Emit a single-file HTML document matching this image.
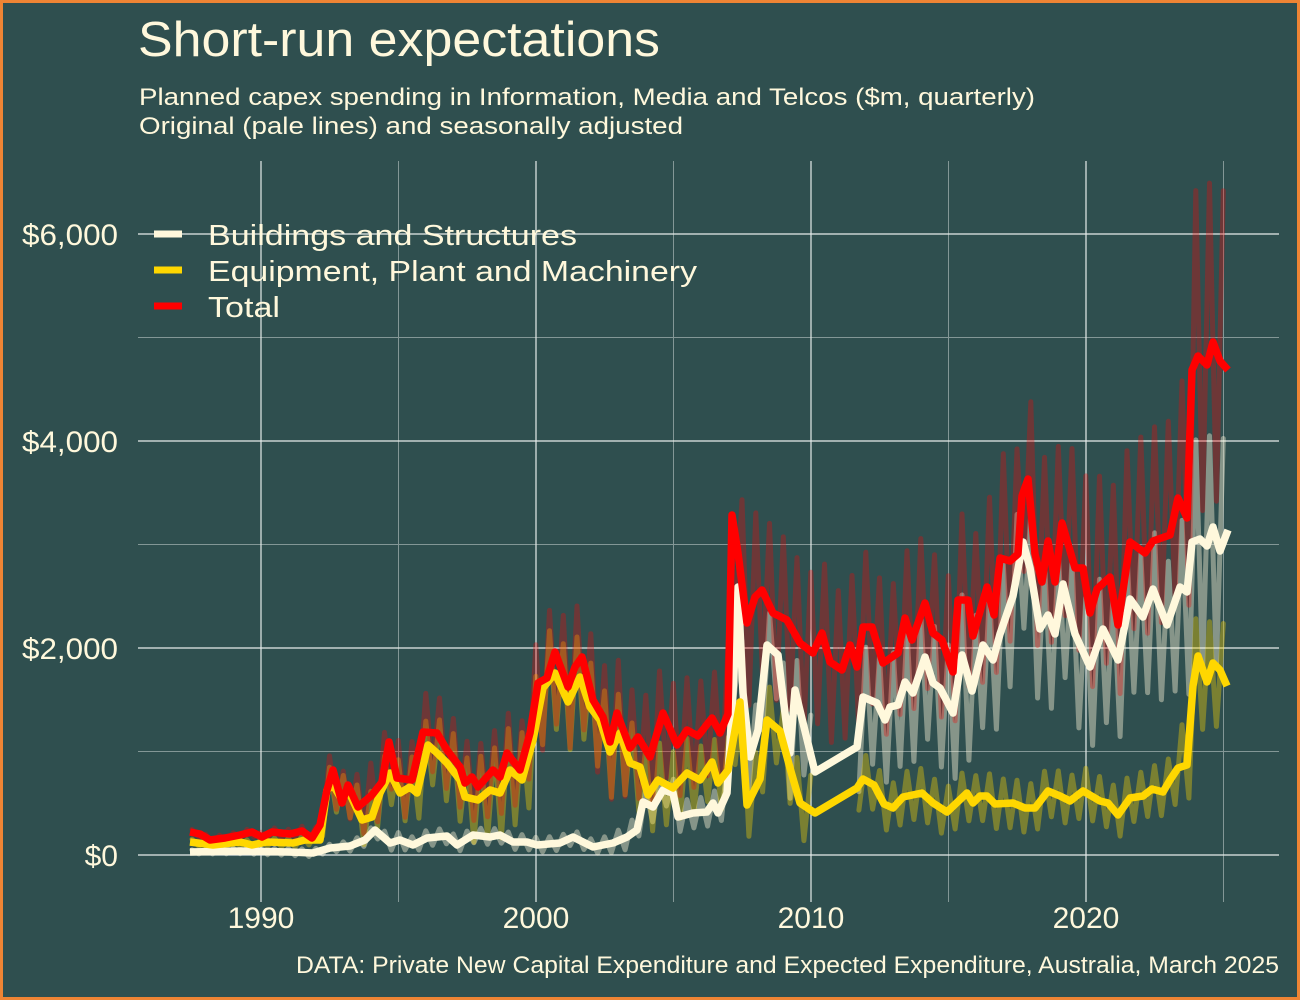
<!DOCTYPE html>
<html>
<head>
<meta charset="utf-8">
<style>
html,body{margin:0;padding:0;background:#2F4F4F;}
svg{display:block;}
text{font-family:"Liberation Sans",sans-serif;fill:#FFF8DC;}
</style>
</head>
<body>
<svg id="chart" xmlns="http://www.w3.org/2000/svg" width="1300" height="1000" viewBox="0 0 1300 1000">
<rect x="0" y="0" width="1300" height="1000" fill="#EE8434"/>
<rect x="3" y="3" width="1294" height="994" fill="#2F4F4F"/>

<!-- minor gridlines -->
<g stroke="#9fb0ae" stroke-width="1" opacity="0.75">
<line x1="138" y1="751.5" x2="1279" y2="751.5"/>
<line x1="138" y1="544.5" x2="1279" y2="544.5"/>
<line x1="138" y1="337.5" x2="1279" y2="337.5"/>
<line x1="398.5" y1="161" x2="398.5" y2="902"/>
<line x1="673.5" y1="161" x2="673.5" y2="902"/>
<line x1="948.5" y1="161" x2="948.5" y2="902"/>
<line x1="1223.5" y1="161" x2="1223.5" y2="902"/>
</g>
<!-- major gridlines -->
<g stroke="#e6ecea" stroke-width="1.2">
<line x1="138" y1="855" x2="1279" y2="855"/>
<line x1="138" y1="648" x2="1279" y2="648"/>
<line x1="138" y1="441" x2="1279" y2="441"/>
<line x1="138" y1="234" x2="1279" y2="234"/>
<line x1="261" y1="161" x2="261" y2="902"/>
<line x1="536" y1="161" x2="536" y2="902"/>
<line x1="811" y1="161" x2="811" y2="902"/>
<line x1="1086" y1="161" x2="1086" y2="902"/>
</g>

<g id="pale" fill="none" stroke-linejoin="round" stroke-linecap="round"></g>

<g fill="none" stroke-linejoin="round" stroke-linecap="butt" stroke-width="7.5">
<polyline id="sa_b" stroke="#FFF8DC" points="190,852 240,851 290,852 313,853 330,848 350,846 365,840 375,830 390,843 400,840 413,845 427,838 447,836 457,845 473,835 490,837 500,835 513,842 527,842 537,845 560,843 573,837 593,847 613,843 627,837 637,830 643,802 653,807 663,790 673,793 678,817 693,813 707,812 713,803 718,813 727,793 733,693 738,587 743,693 750,757 758,730 767,645 778,655 783,697 790,753 795,690 815,772 857,747 863,697 877,703 885,720 890,707 898,705 905,682 913,693 925,657 933,683 940,688 953,713 962,655 972,691 983,645 993,660 1000,634 1013,596 1023,542 1030,568 1040,629 1048,615 1055,634 1063,584 1075,634 1090,667 1103,629 1118,660 1130,599 1143,617 1153,589 1167,625 1180,587 1187,592 1192,542 1200,539 1207,546 1213,527 1220,551 1228,530"/>
<polyline id="sa_e" stroke="#FFD700" points="190,842 213,845 240,842 252,845 267,842 293,843 305,840 320,840 327,790 333,785 342,800 348,790 362,820 372,817 380,793 390,773 400,793 410,787 417,793 428,745 437,753 447,763 460,780 465,797 478,800 490,790 500,793 510,770 522,780 533,740 543,688 555,673 568,702 580,677 590,707 600,720 610,752 620,733 630,763 640,767 648,795 658,780 673,788 687,773 700,780 712,762 718,783 728,770 740,702 747,805 760,779 767,720 780,731 790,768 800,803 815,813 857,788 863,779 874,785 884,804 893,808 903,797 922,793 933,803 947,812 967,793 973,803 980,796 987,796 995,804 1013,803 1025,808 1035,808 1048,791 1060,796 1070,801 1083,791 1100,801 1108,803 1118,815 1130,798 1143,796 1152,789 1163,792 1170,780 1178,768 1187,765 1193,686 1198,656 1207,682 1213,663 1220,670 1227,686"/>
<polyline id="sa_t" stroke="#FF0000" points="190,832 200,834 210,840 225,838 240,835 252,832 262,837 272,832 290,834 302,831 312,838 320,825 327,790 333,770 342,803 348,785 358,807 372,795 382,782 389,742 397,778 412,780 423,732 437,733 447,750 460,767 465,783 472,777 478,787 493,770 500,777 507,753 520,770 530,733 538,683 547,678 555,652 568,687 575,667 582,657 593,700 603,717 610,742 617,713 630,748 638,737 650,757 663,713 677,745 687,730 698,736 712,718 720,733 728,714 732,515 738,553 747,623 755,597 762,590 773,613 787,620 800,643 813,653 822,633 830,662 842,670 850,645 857,667 863,627 872,627 883,663 898,653 905,618 912,640 925,603 933,633 942,640 953,672 958,600 968,600 973,636 987,587 994,615 1000,558 1010,561 1018,554 1022,496 1028,479 1035,554 1042,582 1048,541 1055,582 1062,523 1075,568 1083,568 1090,613 1097,589 1110,577 1118,625 1130,542 1145,553 1153,541 1170,535 1178,498 1187,518 1192,370 1198,356 1207,365 1213,342 1220,361 1228,370"/>
</g>

<!-- Title & subtitle -->
<text x="138" y="56" font-size="49" textLength="522" lengthAdjust="spacingAndGlyphs">Short-run expectations</text>
<text x="139" y="105" font-size="24" textLength="896" lengthAdjust="spacingAndGlyphs">Planned capex spending in Information, Media and Telcos ($m, quarterly)</text>
<text x="139" y="134" font-size="24" textLength="544" lengthAdjust="spacingAndGlyphs">Original (pale lines) and seasonally adjusted</text>

<!-- Legend -->
<rect x="154" y="230.5" width="28" height="7" fill="#FFF8DC"/>
<rect x="154" y="266.5" width="28" height="7" fill="#FFD700"/>
<rect x="154" y="302.5" width="28" height="7" fill="#FF0000"/>
<text x="208" y="245" font-size="29" textLength="369" lengthAdjust="spacingAndGlyphs">Buildings and Structures</text>
<text x="208" y="281" font-size="29" textLength="489" lengthAdjust="spacingAndGlyphs">Equipment, Plant and Machinery</text>
<text x="208" y="317" font-size="29" textLength="72" lengthAdjust="spacingAndGlyphs">Total</text>

<!-- Y axis labels -->
<g font-size="30" text-anchor="end">
<text x="118" y="245" textLength="96" lengthAdjust="spacingAndGlyphs">$6,000</text>
<text x="118" y="452" textLength="96" lengthAdjust="spacingAndGlyphs">$4,000</text>
<text x="118" y="659" textLength="96" lengthAdjust="spacingAndGlyphs">$2,000</text>
<text x="118" y="866">$0</text>
</g>

<!-- X axis labels -->
<g font-size="30" text-anchor="middle">
<text x="261" y="928">1990</text>
<text x="536" y="928">2000</text>
<text x="811" y="928">2010</text>
<text x="1086" y="928">2020</text>
</g>

<!-- Caption -->
<text x="1279" y="973" font-size="24.5" text-anchor="end" textLength="983" lengthAdjust="spacingAndGlyphs">DATA: Private New Capital Expenditure and Expected Expenditure, Australia, March 2025</text>
</svg>

<script>
(function(){
  var ns="http://www.w3.org/2000/svg";
  function P(s){return s.trim().split(/\s+/).map(function(p){return p.split(',').map(Number);});}
  function f(pts,x){
    if(x<=pts[0][0])return pts[0][1];
    for(var i=1;i<pts.length;i++){
      if(x<=pts[i][0]){var a=pts[i-1],b=pts[i];return a[1]+(b[1]-a[1])*(x-a[0])/(b[0]-a[0]);}
    }
    return pts[pts.length-1][1];
  }
  function amp(arr,x){
    if(x<=arr[0][0])return [arr[0][1],arr[0][2]];
    for(var i=1;i<arr.length;i++){
      if(x<=arr[i][0]){var a=arr[i-1],b=arr[i],t=(x-a[0])/(b[0]-a[0]);
        return [a[1]+(b[1]-a[1])*t,a[2]+(b[2]-a[2])*t];}
    }
    var l=arr[arr.length-1];return [l[1],l[2]];
  }
  var series=[
    {id:"sa_b",color:"#FFF8DC",op:0.42,gap:true,
     a:[[190,2,2],[330,4,4],[400,8,8],[600,7,7],[640,15,15],[725,15,15],[735,30,40],[815,40,50],[857,50,60],[960,60,80],[1180,60,90],[1190,100,125],[1232,105,130]]},
    {id:"sa_e",color:"#FFD700",op:0.36,gap:true,
     a:[[190,3,3],[318,5,5],[325,20,20],[400,30,30],[540,50,55],[640,40,45],[725,30,30],[735,35,35],[815,35,35],[857,25,25],[1170,24,24],[1180,40,40],[1190,50,60],[1232,55,60]]},
    {id:"sa_t",color:"#FF0000",op:0.3,gap:false,
     a:[[190,3,3],[318,5,5],[325,25,25],[400,38,38],[530,42,42],[540,60,70],[640,55,60],[725,50,50],[735,85,90],[900,72,72],[960,85,80],[1000,105,80],[1180,115,85],[1190,170,150],[1232,175,150]]}
  ];
  var g=document.getElementById("pale");
  series.forEach(function(s){
    var pts=P(document.getElementById(s.id).getAttribute("points"));
    var d="",pen=false;
    for(var i=0;i<=151;i++){
      var x=192+i*6.875;
      if(x>1230)break;
      if(s.gap && x>817 && x<855){pen=false;continue;}
      var y=f(pts,x),am=amp(s.a,x);
      y += (i%2===0)? -am[0] : am[1];
      d += (pen?"L":"M")+x.toFixed(1)+","+y.toFixed(1)+" ";
      pen=true;
    }
    var p=document.createElementNS(ns,"path");
    p.setAttribute("d",d);
    p.setAttribute("stroke",s.color);
    p.setAttribute("stroke-opacity",s.op);
    p.setAttribute("stroke-width","5");
    g.appendChild(p);
  });
})();
</script>
</body>
</html>
